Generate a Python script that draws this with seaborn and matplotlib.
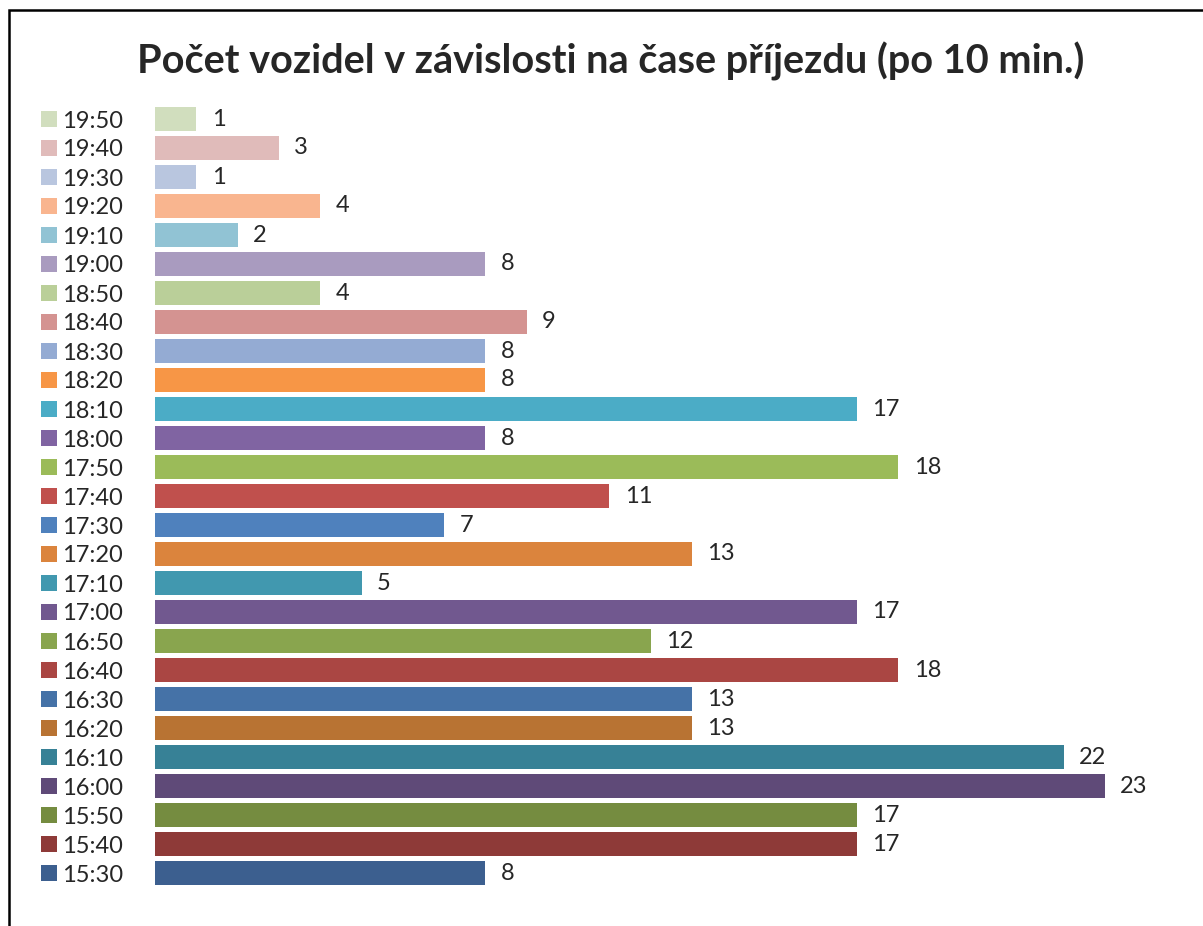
# Pocet vozidel podle casu prijezdu - horizontal bar chart
import numpy as np
import pandas as pd
import matplotlib
matplotlib.use('Agg')
import matplotlib.pyplot as plt
import matplotlib.patches as mpatches
import seaborn as sns

# data (chronological order)
casy = ['15:30', '15:40', '15:50', '16:00', '16:10', '16:20', '16:30', '16:40', '16:50',
        '17:00', '17:10', '17:20', '17:30', '17:40', '17:50', '18:00', '18:10', '18:20',
        '18:30', '18:40', '18:50', '19:00', '19:10', '19:20', '19:30', '19:40', '19:50']
pocty = [8, 17, 17, 23, 22, 13, 13, 18, 12,
         17, 5, 13, 7, 11, 18, 8, 17, 8,
         8, 9, 4, 8, 2, 4, 1, 3, 1]
barvy = ['#3C5F8F', '#8E3A38', '#758C40', '#5F4A78', '#378196', '#B87333', '#4572A7', '#AA4643', '#89A54E',
         '#71588F', '#4198AF', '#DB843D', '#4F81BD', '#C0504D', '#9BBB59', '#8064A2', '#4BACC6', '#F79646',
         '#94ABD3', '#D49391', '#BACF99', '#A99BBF', '#91C3D4', '#F9B58F', '#B9C6DF', '#E0BBBA', '#D1DEBE']
titulek = 'Počet vozidel v závislosti na čase příjezdu (po 10 min.)'

df = pd.DataFrame({'cas': casy, 'pocet': pocty})
paleta = dict(zip(casy, barvy))
poradi = casy[::-1]  # 19:50 on top

sns.set_style('white')
plt.rcParams['font.family'] = ['Lato', 'DejaVu Sans']

fig = plt.figure(figsize=(12.03, 9.26), dpi=100)
W, H = 1203, 926
ax = fig.add_axes([155 / W, 1 - 887.5 / H, 1032.5 / W, 783 / H])

sns.barplot(data=df, x='pocet', y='cas', hue='cas', palette=paleta, order=poradi,
            hue_order=poradi, legend=False, width=0.83, saturation=1, orient='h',
            linewidth=0, ax=ax)

for c in ax.containers:
    ax.bar_label(c, padding=11, fontsize=17)

ax.set_xlim(0, 25)
ax.set_ylim(len(casy) - 0.5, -0.5)
ax.set_xlabel('')
ax.set_ylabel('')
ax.set_xticks([])
ax.tick_params(axis='y', length=0, pad=67, labelsize=17)
for lab in ax.get_yticklabels():
    lab.set_horizontalalignment('left')
sns.despine(ax=ax, left=True, bottom=True)

# legend squares next to tick labels
ax.scatter(x=[-0.1027] * len(poradi), y=poradi, c=[paleta[t] for t in poradi],
           marker='s', s=133, linewidths=0, transform=ax.get_yaxis_transform(), clip_on=False)

fig.text(611 / W, 1 - 61 / H, titulek, ha='center', va='center', fontsize=28.5, fontweight='bold')

# outer frame (only left and top visible)
fig.add_artist(mpatches.Rectangle((9 / W, -0.1), 2, (1 - 10 / H) + 0.1, transform=fig.transFigure,
                                  fill=False, edgecolor='black', linewidth=1.8))

fig.savefig('out.png', dpi=100)
